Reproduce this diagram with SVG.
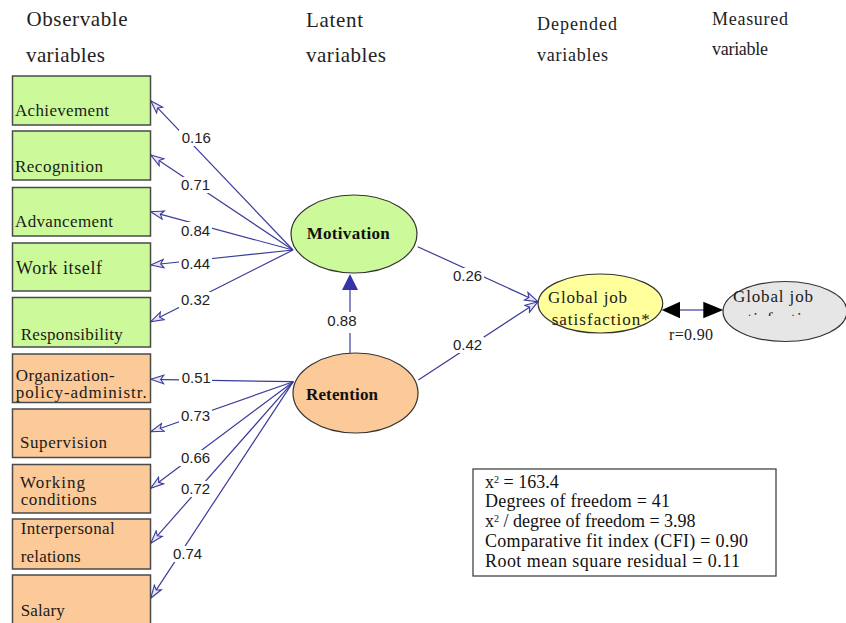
<svg xmlns="http://www.w3.org/2000/svg" width="846" height="623" viewBox="0 0 846 623">
<style>
.hdr{font-family:"Liberation Serif",serif;font-size:21px;fill:#222}
.hdr2{font-family:"Liberation Serif",serif;font-size:18px;fill:#222}
.box{stroke:#4a4a4a;stroke-width:1.5}
.g{fill:#ccfa9a}
.o{fill:#fcca98}
.lbl{font-family:"Liberation Serif",serif;font-size:17px;fill:#1a1a1a}
.lat{font-family:"Liberation Serif",serif;font-size:17px;font-weight:bold;fill:#111}
.ell{stroke:#333;stroke-width:1.2}
.ln{stroke:#3b3b9c;stroke-width:1.2;fill:none}
.arr{marker-end:url(#open)}
.num{font-family:"Liberation Sans",sans-serif;font-size:15px;fill:#222}
.bg{fill:#fff}
.st{font-family:"Liberation Serif",serif;font-size:18px;fill:#111}
</style>
<defs>
<marker id="open" markerUnits="userSpaceOnUse" markerWidth="16" markerHeight="12" viewBox="-14 -6 16 12" refX="0" refY="0" orient="auto">
<path d="M0,0 L-13,-4.2 L-10,0 L-13,4.2 Z" fill="#e4e4f6" stroke="#3b3b9c" stroke-width="1.1"/>
</marker>
<clipPath id="clipSat"><rect x="720" y="280" width="130" height="36"/></clipPath>
</defs>

<g id="headers">
<text class="hdr" x="26.5" y="26" textLength="101">Observable</text>
<text class="hdr" x="26" y="62" textLength="79">variables</text>
<text class="hdr" x="306" y="26.5" textLength="57">Latent</text>
<text class="hdr" x="306" y="62" textLength="80">variables</text>
<text class="hdr2" x="537" y="30" textLength="80">Depended</text>
<text class="hdr2" x="537" y="61" textLength="71">variables</text>
<text class="hdr2" x="712" y="25" textLength="76">Measured</text>
<text class="hdr2" x="712" y="55" textLength="56">variable</text>
</g>

<g id="connectors">
<line class="ln arr" x1="293" y1="250" x2="150.7" y2="100.7"/>
<line class="ln arr" x1="293" y1="250" x2="150.7" y2="155"/>
<line class="ln arr" x1="293" y1="250" x2="150.7" y2="211.7"/>
<line class="ln arr" x1="293" y1="250" x2="150.7" y2="265"/>
<line class="ln arr" x1="293" y1="250" x2="150.7" y2="321.7"/>
<line class="ln arr" x1="293.3" y1="381.7" x2="150.7" y2="379.3"/>
<line class="ln arr" x1="293.3" y1="381.7" x2="150.7" y2="431.7"/>
<line class="ln arr" x1="293.3" y1="381.7" x2="150.7" y2="488.3"/>
<line class="ln arr" x1="293.3" y1="381.7" x2="150.7" y2="543.3"/>
<line class="ln arr" x1="293.3" y1="381.7" x2="150.7" y2="598.3"/>
<line class="ln arr" x1="417.7" y1="246.7" x2="538" y2="301.7"/>
<line class="ln arr" x1="418.3" y1="380" x2="538" y2="301.7"/>
<line class="ln" x1="350" y1="353" x2="350" y2="289"/>
<polygon points="350,274 342,290 358,290" fill="#3434a8"/>
<line class="ln" x1="678" y1="310" x2="705" y2="310"/>
<polygon points="661.7,310 680,301.7 680,318.3" fill="#000"/>
<polygon points="723.3,310 703.3,301.7 703.3,318.3" fill="#000"/>
<rect class="bg" x="179" y="130" width="33" height="16"/>
<rect class="bg" x="179" y="177" width="33" height="16"/>
<rect class="bg" x="179" y="222" width="33" height="16"/>
<rect class="bg" x="179" y="256" width="33" height="16"/>
<rect class="bg" x="179" y="292" width="33" height="16"/>
<rect class="bg" x="179" y="370" width="33" height="16"/>
<rect class="bg" x="179" y="408" width="33" height="16"/>
<rect class="bg" x="179" y="450" width="33" height="16"/>
<rect class="bg" x="179" y="481" width="33" height="16"/>
<rect class="bg" x="171" y="546" width="33" height="16"/>
<rect class="bg" x="451" y="268" width="33" height="16"/>
<rect class="bg" x="451" y="337" width="33" height="16"/>
<rect class="bg" x="325" y="312" width="33" height="21"/>
<text class="num" x="181.7" y="143.3">0.16</text>
<text class="num" x="181" y="190">0.71</text>
<text class="num" x="181" y="235.5">0.84</text>
<text class="num" x="181" y="269">0.44</text>
<text class="num" x="181" y="305">0.32</text>
<text class="num" x="181.7" y="382.7">0.51</text>
<text class="num" x="181" y="421">0.73</text>
<text class="num" x="181" y="463.3">0.66</text>
<text class="num" x="181" y="494.3">0.72</text>
<text class="num" x="173" y="559.3">0.74</text>
<text class="num" x="453" y="281">0.26</text>
<text class="num" x="453" y="350">0.42</text>
<text class="num" x="327.3" y="326">0.88</text>
<text class="lbl" x="669" y="340" textLength="44" style="font-size:16px">r=0.90</text>
</g>

<g id="achievement"><rect class="box g" x="12.5" y="76" width="138" height="49"/><text class="lbl" x="15" y="116" textLength="94">Achievement</text></g>
<g id="recognition"><rect class="box g" x="12.5" y="131" width="138" height="49"/><text class="lbl" x="15" y="171.7" textLength="88">Recognition</text></g>
<g id="advancement"><rect class="box g" x="12.5" y="187.5" width="138" height="48.5"/><text class="lbl" x="15" y="226.7" textLength="98">Advancement</text></g>
<g id="work-itself"><rect class="box g" x="12.5" y="243" width="138" height="48"/><text class="lbl" x="16" y="273.5" textLength="86" style="font-size:18px">Work itself</text></g>
<g id="responsibility"><rect class="box g" x="12.5" y="297.5" width="138" height="49.5"/><text class="lbl" x="20.7" y="340" textLength="102">Responsibility</text></g>
<g id="organization"><rect class="box o" x="12.5" y="354" width="138" height="48.5"/><text class="lbl" x="15.7" y="380.7" textLength="99">Organization-</text><text class="lbl" x="15.7" y="398" textLength="131">policy-administr.</text></g>
<g id="supervision"><rect class="box o" x="12.5" y="409" width="138" height="48.5"/><text class="lbl" x="20" y="448" textLength="87">Supervision</text></g>
<g id="working-conditions"><rect class="box o" x="12.5" y="464.5" width="138" height="48.5"/><text class="lbl" x="20" y="487.7" textLength="65">Working</text><text class="lbl" x="20.7" y="505" textLength="76">conditions</text></g>
<g id="interpersonal"><rect class="box o" x="12.5" y="519" width="138" height="50"/><text class="lbl" x="20.7" y="534.3" textLength="94">Interpersonal</text><text class="lbl" x="20.7" y="561.7" textLength="60">relations</text></g>
<g id="salary"><rect class="box o" x="12.5" y="575" width="138" height="52"/><text class="lbl" x="20.7" y="616" textLength="44">Salary</text></g>

<g id="motivation"><ellipse class="ell" cx="354" cy="234" rx="63" ry="39" fill="#ccfa9a"/><text class="lat" x="306.7" y="238.5" textLength="83">Motivation</text></g>
<g id="retention"><ellipse class="ell" cx="355.5" cy="393" rx="62.5" ry="40" fill="#fcca98"/><text class="lat" x="306" y="400" textLength="72">Retention</text></g>
<g id="global-job-satisfaction"><ellipse class="ell" cx="600.4" cy="303.5" rx="62.3" ry="29.5" fill="#ffff9c"/><text class="lbl" x="548" y="303" textLength="79">Global job</text><text class="lbl" x="551.7" y="325" textLength="98">satisfaction*</text></g>
<g id="global-job-measured"><ellipse class="ell" cx="785" cy="311.5" rx="62" ry="30" fill="#e6e6e6"/><text class="lbl" x="733" y="301.7" textLength="80">Global job</text><text class="lbl" x="731" y="324" textLength="90" clip-path="url(#clipSat)">satisfaction</text></g>

<g id="fit-statistics">
<rect x="473" y="469" width="303" height="107" fill="#fff" stroke="#444" stroke-width="1.3"/>
<text class="st" x="485" y="487.5">x<tspan dy="-5" font-size="10">2</tspan><tspan dy="5"> = 163.4</tspan></text>
<text class="st" x="485" y="507" textLength="185">Degrees of freedom = 41</text>
<text class="st" x="485" y="527">x<tspan dy="-5" font-size="10">2</tspan><tspan dy="5">  / degree of freedom = 3.98</tspan></text>
<text class="st" x="485" y="547" textLength="263">Comparative fit index (CFI) = 0.90</text>
<text class="st" x="485" y="567" textLength="255">Root mean square  residual = 0.11</text>
</g>
</svg>
